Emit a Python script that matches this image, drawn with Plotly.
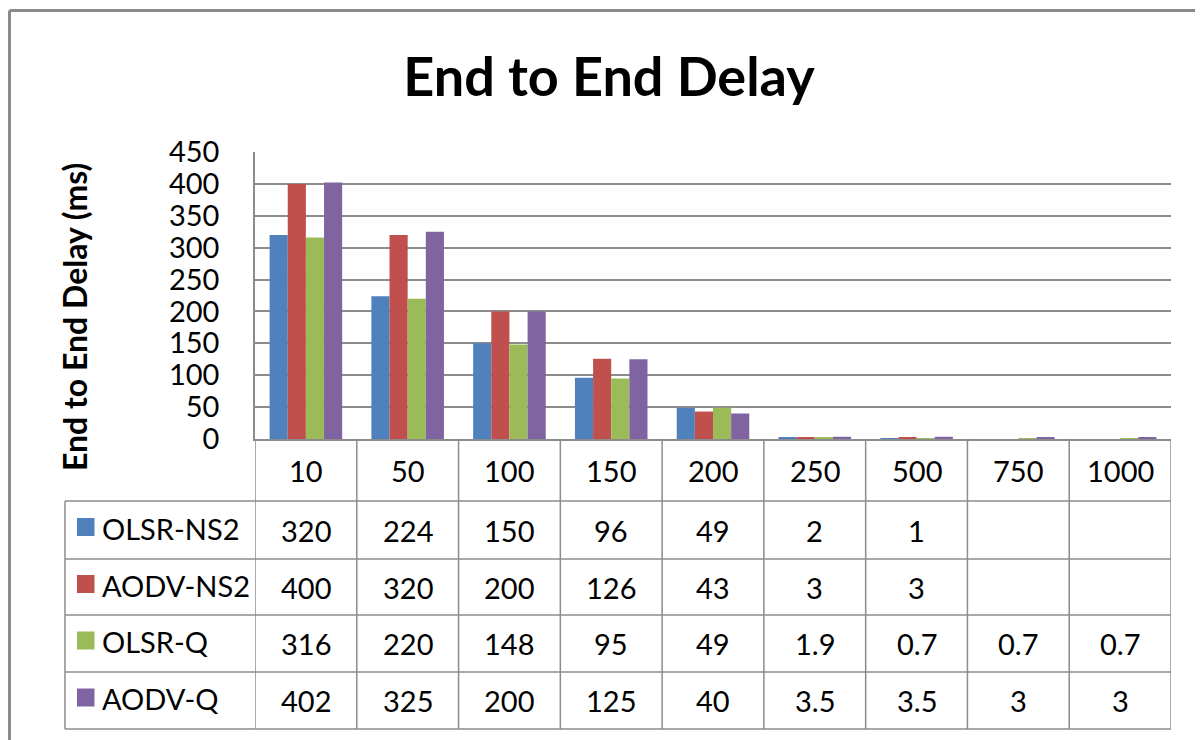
import plotly.graph_objects as go

categories = ["10", "50", "100", "150", "200", "250", "500", "750", "1000"]
series_names = ["OLSR-NS2", "AODV-NS2", "OLSR-Q", "AODV-Q"]
olsr_ns2 = [320, 224, 150, 96, 49, 2, 1, None, None]
aodv_ns2 = [400, 320, 200, 126, 43, 3, 3, None, None]
olsr_q = [316, 220, 148, 95, 49, 1.9, 0.7, 0.7, 0.7]
aodv_q = [402, 325, 200, 125, 40, 3.5, 3.5, 3, 3]
y_ticks = [0, 50, 100, 150, 200, 250, 300, 350, 400, 450]

series_values = [olsr_ns2, aodv_ns2, olsr_q, aodv_q]
colors = ["#4F81BD", "#C0504D", "#9BBB59", "#8064A2"]

PAGE_W, PAGE_H = 1203, 740
OFF = 8  # default page body margin
W, H = PAGE_W - OFF, PAGE_H - OFF
L, R, T, B = 255, 1171, 152, 439   # plot area in page pixels
PW, PH = R - L, B - T
FONT = "Lato"
GRID = "#8c8c8c"
TXT = 29


def px(xp):
    return (xp - L) / PW


def py(yp):
    return (B - yp) / PH


fig = go.Figure()
for name, vals, col in zip(series_names, series_values, colors):
    fig.add_trace(go.Bar(x=categories, y=vals, name=name, marker_color=col,
                         marker_line_width=0, showlegend=False))

shapes = []
annotations = []

header_bottom = 501
row_edges = [501, 559, 615, 672, 729]
table_left = 65

n = len(categories)
for i in range(n + 1):
    shapes.append(dict(type="line", xref="x", yref="paper", x0=i - 0.5, x1=i - 0.5,
                       y0=py(B), y1=py(row_edges[-1]), line=dict(color=GRID, width=1.5)))
shapes.append(dict(type="line", xref="paper", yref="paper", x0=px(table_left), x1=px(table_left),
                   y0=py(row_edges[0]), y1=py(row_edges[-1]), line=dict(color=GRID, width=1.5)))
for yp in row_edges:
    shapes.append(dict(type="line", xref="paper", yref="paper", x0=px(table_left), x1=1,
                       y0=py(yp), y1=py(yp), line=dict(color=GRID, width=1.5)))

for i, c in enumerate(categories):
    annotations.append(dict(x=i, y=py((B + header_bottom) / 2), xref="x", yref="paper",
                            text=c, showarrow=False, font=dict(family=FONT, size=TXT, color="#000"),
                            xanchor="center", yanchor="middle"))

for r, (name, vals, col) in enumerate(zip(series_names, series_values, colors)):
    yc = (row_edges[r] + row_edges[r + 1]) / 2
    shapes.append(dict(type="rect", xref="paper", yref="paper", x0=px(77), x1=px(94.5),
                       y0=py(yc - 12), y1=py(yc + 6), fillcolor=col, line=dict(width=0)))
    annotations.append(dict(x=px(100), y=py(yc - 2), xref="paper", yref="paper", text=name,
                            showarrow=False, font=dict(family=FONT, size=TXT, color="#000"),
                            xanchor="left", yanchor="middle"))
    for i, v in enumerate(vals):
        if v is None:
            continue
        annotations.append(dict(x=i, y=py(yc), xref="x", yref="paper", text=f"{v:g}",
                                showarrow=False, font=dict(family=FONT, size=TXT, color="#000"),
                                xanchor="center", yanchor="middle"))

annotations.append(dict(x=px(74), y=py(317), xref="paper", yref="paper",
                        text="<b>End to End Delay (ms)</b>", textangle=-90, showarrow=False,
                        font=dict(family=FONT, size=32, color="#000"),
                        xanchor="center", yanchor="middle"))

# outer chart frame: only top and left edges fall inside the picture
shapes.append(dict(type="line", xref="paper", yref="paper", x0=px(9.5), x1=px(PAGE_W),
                   y0=py(10.5), y1=py(10.5), line=dict(color="#8a8a8a", width=3)))
shapes.append(dict(type="line", xref="paper", yref="paper", x0=px(9.5), x1=px(9.5),
                   y0=py(10.5), y1=py(PAGE_H), line=dict(color="#8a8a8a", width=3)))

fig.update_layout(
    width=W, height=H,
    margin=dict(l=L - OFF, r=PAGE_W - R, t=T - OFF, b=PAGE_H - B, pad=0),
    paper_bgcolor="white", plot_bgcolor="white",
    barmode="group", bargap=0.287, bargroupgap=0,
    title=dict(text="<b>End to End Delay</b>", x=(609 - OFF) / W, xanchor="center",
               y=1 - (77 - OFF) / H, yanchor="middle",
               font=dict(family=FONT, size=54, color="#000")),
    xaxis=dict(type="category", range=[-0.5, n - 0.5], showticklabels=False,
               showline=True, linecolor=GRID, linewidth=1.5, showgrid=False, ticks=""),
    yaxis=dict(range=[0, 450], tickvals=y_ticks, showgrid=True, gridcolor=GRID, gridwidth=1.5,
               showline=True, linecolor=GRID, linewidth=1.5, zeroline=False, ticks="",
               ticklabelstandoff=28,
               tickfont=dict(family=FONT, size=TXT, color="#000")),
    shapes=shapes,
    annotations=annotations,
)

fig.write_html("out.html", post_script="document.body.style.overflow='hidden';")
